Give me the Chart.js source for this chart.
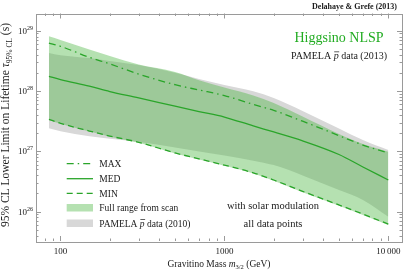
<!DOCTYPE html>
<html>
<head>
<meta charset="utf-8">
<script src="https://cdn.jsdelivr.net/npm/chart.js@4.4.1/dist/chart.umd.min.js"></script>
<style>
  html, body { margin: 0; padding: 0; background: #fff; }
  #wrap { width: 407px; height: 272px; }
</style>
</head>
<body>
<div id="wrap"><canvas id="chart"></canvas></div>
<script>
// gravitino mass (GeV) and 95% CL lower limits on the lifetime (s)
const masses   = [85, 100, 150, 200, 300, 500, 700, 1000, 1500, 2000, 3000, 5000, 7000, 10000];
const maxProp  = [6.25e28, 5.51e28, 3.62e28, 2.81e28, 1.91e28, 1.27e28, 1.04e28, 8.4e27, 6.0e27, 4.76e27, 3.16e27, 1.82e27, 1.27e27, 9.4e26];
const medProp  = [1.75e28, 1.55e28, 1.20e28, 9.8e27, 7.7e27, 5.6e27, 4.56e27, 3.7e27, 2.63e27, 2.09e27, 1.49e27, 8.85e26, 5.5e26, 3.34e26];
const minProp  = [3.39e27, 2.91e27, 2.17e27, 1.79e27, 1.41e27, 9.4e26, 7.5e26, 5.9e26, 4.4e26, 3.34e26, 2.17e26, 1.29e26, 9.1e25, 6.2e25];
const scanHigh = [8.07e28, 7.0e28, 4.88e28, 3.8e28, 2.75e28, 2.07e28, 1.51e28, 1.14e28, 8.4e27, 6.3e27, 3.78e27, 1.94e27, 1.32e27, 9.8e26];
const scanLow  = [3.3e27, 2.85e27, 2.12e27, 1.75e27, 1.38e27, 9.2e26, 7.3e26, 5.75e26, 4.3e26, 3.25e26, 2.1e26, 1.25e26, 8.8e25, 6.0e25];
const pam10High = [4.27e28, 3.93e28, 3.52e28, 3.15e28, 2.70e28, 2.01e28, 1.58e28, 1.26e28, 9.9e27, 7.66e27, 4.66e27, 2.39e27, 1.54e27, 1.05e27];
const pam10Low  = [2.40e27, 2.15e27, 1.77e27, 1.61e27, 1.43e27, 1.16e27, 9.9e26, 8.5e26, 7.0e26, 5.9e26, 3.97e26, 2.28e26, 1.56e26, 8.2e25];

const xTicks = [100, 1000, 10000];
const xTickLabels = ['100', '1000', '10\u2009000'];
const yTicks = [1e26, 1e27, 1e28, 1e29];
const yTickLabels = ['26', '27', '28', '29'];

const SERIF = '"Liberation Serif", "Times New Roman", serif';
const GREEN = '#2aa52a';
const GREEN_FILL = 'rgba(70, 180, 60, 0.40)';
const GRAY_FILL = '#d8d8d8';
const FRAME = '#9a9a9a';

const pts = arr => masses.map((m, i) => ({ x: m, y: arr[i] }));

function line(label, arr, dash) {
    return {
        label: label, data: pts(arr), borderColor: GREEN, borderWidth: 1.3,
        borderDash: dash, pointRadius: 0, fill: false, cubicInterpolationMode: 'monotone'
    };
}
function edge(arr, fill, color) {
    return {
        data: pts(arr), borderWidth: 0, borderColor: 'rgba(0,0,0,0)', pointRadius: 0,
        fill: fill, backgroundColor: color, cubicInterpolationMode: 'monotone'
    };
}

// draws a sequence of text pieces with their own fonts
function drawRuns(ctx, parts, x, y, align) {
    let w = 0;
    parts.forEach(p => { ctx.font = p.font; p.w = ctx.measureText(p.t).width; w += p.w; });
    let cx = align === 'center' ? x - w / 2 : (align === 'right' ? x - w : x);
    ctx.textAlign = 'left';
    parts.forEach(p => {
        ctx.font = p.font;
        ctx.fillStyle = p.color || '#1a1a1a';
        ctx.fillText(p.t, cx, y + (p.dy || 0));
        if (p.bar) {
            ctx.strokeStyle = ctx.fillStyle;
            ctx.lineWidth = 0.7;
            ctx.beginPath();
            ctx.moveTo(cx + 0.5, y + p.bar);
            ctx.lineTo(cx + p.w + 0.5, y + p.bar);
            ctx.stroke();
        }
        cx += p.w;
    });
}

const frameAndText = {
    id: 'frameAndText',
    afterDraw(chart) {
        const ctx = chart.ctx, a = chart.chartArea;
        const xs = chart.scales.x, ys = chart.scales.y;
        ctx.save();

        // frame with inward ticks
        ctx.strokeStyle = FRAME;
        ctx.lineWidth = 1;
        ctx.strokeRect(Math.round(a.left) + 0.5, Math.round(a.top) + 0.5,
            Math.round(a.right - a.left), Math.round(a.bottom - a.top));
        const logTicks = sc => {
            const out = [];
            for (let e = Math.floor(Math.log10(sc.min)); e <= Math.ceil(Math.log10(sc.max)); e++) {
                for (let k = 1; k <= 9; k++) {
                    const v = k * Math.pow(10, e);
                    if (v > sc.min && v < sc.max) out.push([v, k === 1]);
                }
            }
            return out;
        };
        ctx.beginPath();
        logTicks(xs).forEach(([v, major]) => {
            const p = Math.round(xs.getPixelForValue(v)) + 0.5, len = major ? 5 : 2.5;
            ctx.moveTo(p, a.bottom); ctx.lineTo(p, a.bottom - len);
            ctx.moveTo(p, a.top); ctx.lineTo(p, a.top + len);
        });
        logTicks(ys).forEach(([v, major]) => {
            const p = Math.round(ys.getPixelForValue(v)) + 0.5, len = major ? 5 : 2.5;
            ctx.moveTo(a.left, p); ctx.lineTo(a.left + len, p);
            ctx.moveTo(a.right, p); ctx.lineTo(a.right - len, p);
        });
        ctx.stroke();

        // y tick labels 10^n
        ctx.textBaseline = 'alphabetic';
        yTicks.forEach((v, i) => {
            const p = ys.getPixelForValue(v);
            drawRuns(ctx, [
                { t: '10', font: '9px ' + SERIF },
                { t: yTickLabels[i], font: '6px ' + SERIF, dy: -4 }
            ], a.left - 3, p + 3, 'right');
        });

        // axis titles
        drawRuns(ctx, [
            { t: 'Gravitino Mass ', font: '9.5px ' + SERIF },
            { t: 'm', font: 'italic 9.5px ' + SERIF },
            { t: '3/2', font: '6.5px ' + SERIF, dy: 2 },
            { t: ' (GeV)', font: '9.5px ' + SERIF }
        ], (a.left + a.right) / 2, 266.5, 'center');

        ctx.save();
        ctx.translate(9, 125);
        ctx.rotate(-Math.PI / 2);
        drawRuns(ctx, [
            { t: '95% CL Lower Limit on Lifetime ', font: '11.5px ' + SERIF },
            { t: '\u03c4', font: 'italic 11.5px ' + SERIF },
            { t: '95% CL', font: '7.5px ' + SERIF, dy: 2.5 },
            { t: ' (s)', font: '11.5px ' + SERIF }
        ], 0, 0, 'center');
        ctx.restore();

        // headings
        drawRuns(ctx, [{ t: 'Delahaye & Grefe (2013)', font: 'bold 8px ' + SERIF }], 397, 9.3, 'right');
        drawRuns(ctx, [{ t: 'Higgsino NLSP', font: '14px ' + SERIF, color: '#22ac22' }], 339, 41.5, 'center');
        drawRuns(ctx, [
            { t: 'PAMELA ', font: '10px ' + SERIF },
            { t: 'p', font: 'italic 10px ' + SERIF, bar: -7.5 },
            { t: ' data (2013)', font: '10px ' + SERIF }
        ], 339, 59.3, 'center');
        drawRuns(ctx, [{ t: 'with solar modulation', font: '10.5px ' + SERIF }], 273, 209, 'center');
        drawRuns(ctx, [{ t: 'all data points', font: '10.5px ' + SERIF }], 273, 226.5, 'center');

        // legend
        const lx0 = 66.7, lx1 = 93, tx = 99.3;
        const legendLines = [['MAX', [7, 4, 1.5, 4], 163.7], ['MED', [], 178.7], ['MIN', [6, 4], 193.3]];
        legendLines.forEach(([lab, dash, y]) => {
            ctx.strokeStyle = GREEN; ctx.lineWidth = 1.3; ctx.setLineDash(dash);
            ctx.beginPath(); ctx.moveTo(lx0, y); ctx.lineTo(lx1, y); ctx.stroke();
            ctx.setLineDash([]);
            drawRuns(ctx, [{ t: lab, font: '9.5px ' + SERIF }], tx, y + 3.3, 'left');
        });
        ctx.fillStyle = GREEN_FILL; ctx.fillRect(lx0, 204, lx1 - lx0, 7.5);
        drawRuns(ctx, [{ t: 'Full range from scan', font: '9.5px ' + SERIF }], tx, 211, 'left');
        ctx.fillStyle = GRAY_FILL; ctx.fillRect(lx0, 219.5, lx1 - lx0, 7.5);
        drawRuns(ctx, [
            { t: 'PAMELA ', font: '9.5px ' + SERIF },
            { t: 'p', font: 'italic 9.5px ' + SERIF, bar: -7 },
            { t: ' data (2010)', font: '9.5px ' + SERIF }
        ], tx, 226.5, 'left');

        ctx.restore();
    }
};

Chart.defaults.font.family = SERIF;
Chart.defaults.color = '#1a1a1a';

new Chart(document.getElementById('chart'), {
    type: 'line',
    data: {
        datasets: [
            line('MAX', maxProp, [7, 4, 1.5, 4]),
            line('MED', medProp, []),
            line('MIN', minProp, [6, 4]),
            edge(scanHigh, '+1', GREEN_FILL),
            edge(scanLow, false, 'rgba(0,0,0,0)'),
            edge(pam10High, '+1', GRAY_FILL),
            edge(pam10Low, false, 'rgba(0,0,0,0)')
        ]
    },
    options: {
        responsive: true,
        maintainAspectRatio: false,
        animation: false,
        layout: { padding: { top: 13.5, right: 5, left: 0, bottom: 0 } },
        plugins: { legend: { display: false }, tooltip: { enabled: false } },
        scales: {
            x: {
                type: 'logarithmic', min: 70.9, max: 12120,
                grid: { display: false, drawTicks: false },
                border: { display: false },
                afterBuildTicks: s => { s.ticks = xTicks.map(v => ({ value: v })); },
                afterFit: s => { s.height = 31; },
                ticks: {
                    autoSkip: false, maxRotation: 0, padding: 5,
                    font: { size: 9 }, color: '#1a1a1a',
                    callback: v => xTickLabels[xTicks.indexOf(v)]
                }
            },
            y: {
                type: 'logarithmic', min: 3.254e25, max: 1.928e29,
                grid: { display: false, drawTicks: false },
                border: { display: false },
                afterBuildTicks: s => { s.ticks = yTicks.map(v => ({ value: v })); },
                afterFit: s => { s.width = 36; },
                ticks: { display: false }
            }
        }
    },
    plugins: [frameAndText]
});
</script>
</body>
</html>
